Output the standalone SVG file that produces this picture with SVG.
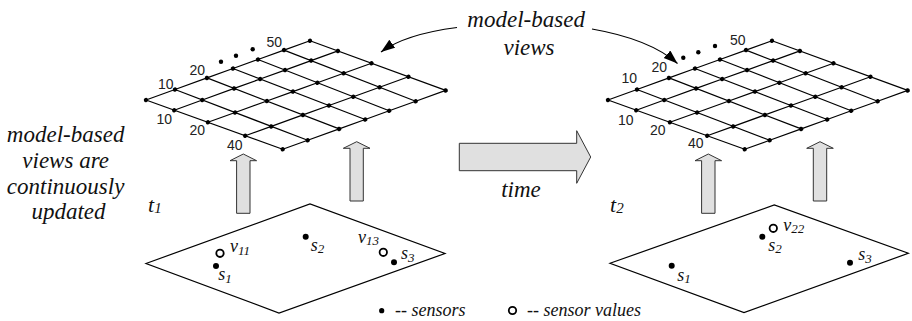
<svg xmlns="http://www.w3.org/2000/svg" xmlns:xlink="http://www.w3.org/1999/xlink" width="912" height="321" viewBox="0 0 912 321">
  <style>
    .row { fill: none; stroke: #000; stroke-width: 1.2; marker-start: url(#node); marker-mid: url(#node); marker-end: url(#node); }
    .col { fill: none; stroke: #000; stroke-width: 1.2; }
    .num { font-family: "Liberation Sans", Arial, sans-serif; font-size: 14px; fill: #222; }
    .it { font-family: "Liberation Serif", "Times New Roman", serif; font-style: italic; fill: #111; }
    .big { font-size: 23px; }
    .lab { font-size: 18px; }
    .sub { font-size: 13px; }
    .block { fill: #e0e0e0; stroke: #333; stroke-width: 1; }
    .plane { fill: none; stroke: #000; stroke-width: 1.2; }
    .dot { fill: #000; }
    .ring { fill: #fff; stroke: #000; stroke-width: 1.8; }
    .curve { fill: none; stroke: #000; stroke-width: 1.2; marker-end: url(#head); }
  </style>
  <defs>
    <marker id="node" markerUnits="userSpaceOnUse" markerWidth="6" markerHeight="6" refX="3" refY="3" orient="auto">
      <circle cx="3" cy="3" r="2.2" fill="#000"/>
    </marker>
    <marker id="head" markerUnits="userSpaceOnUse" markerWidth="15" markerHeight="11" refX="14" refY="5" orient="auto">
      <path d="M0,0 L14,5 L0,10 Z" fill="#000"/>
    </marker>
    <!-- 7 x 5 mesh of the model-based view, slightly foreshortened -->
    <g id="mesh">
      <path class="col" d="M146,100 L282.7,149.3"/>
      <path class="col" d="M175,89.5 L307.7,140.3"/>
      <path class="col" d="M207,77.9 L339.2,128.9"/>
      <path class="col" d="M233,68.5 L365.2,119.5"/>
      <path class="col" d="M258,59.5 L389.2,110.8"/>
      <path class="col" d="M284,50.1 L415.7,101.2"/>
      <path class="col" d="M310,40.7 L445.7,90.4"/>
      <polyline class="row" points="146,100 175,89.5 207,77.9 233,68.5 258,59.5 284,50.1 310,40.7"/>
      <polyline class="row" points="174.2,110.2 202.3,100 234.2,88.4 260.2,79 285,70.1 311.1,60.6 338,50.9"/>
      <polyline class="row" points="207.9,122.3 235.1,112.5 266.9,101 292.9,91.6 317.4,82.7 343.7,73.2 371.5,63.2"/>
      <polyline class="row" points="245.2,135.8 271.3,126.4 303,114.9 329,105.5 353.3,96.7 379.6,87.2 408.5,76.8"/>
      <polyline class="row" points="282.7,149.3 307.7,140.3 339.2,128.9 365.2,119.5 389.2,110.8 415.7,101.2 445.7,90.4"/>
    </g>
  </defs>

  <rect width="912" height="321" fill="#fff"/>

  <!-- view at t1 -->
  <g id="grid-t1">
    <use href="#mesh" xlink:href="#mesh"/>
    <text class="num" x="158" y="88.5">10</text>
    <text class="num" x="189.5" y="75">20</text>
    <text class="num" x="266.5" y="46.7">50</text>
    <text class="num" x="156.5" y="123.5">10</text>
    <text class="num" x="189.5" y="135">20</text>
    <text class="num" x="227" y="149.5">40</text>
    <circle class="dot" cx="221" cy="61.7" r="2.2"/>
    <circle class="dot" cx="236" cy="55.7" r="2.2"/>
    <circle class="dot" cx="252.7" cy="49.3" r="2.2"/>
  </g>

  <!-- view at t2 -->
  <g id="grid-t2">
    <use href="#mesh" xlink:href="#mesh" transform="translate(462,0)"/>
    <text class="num" x="621.5" y="83.3">10</text>
    <text class="num" x="651.5" y="71.7">20</text>
    <text class="num" x="730" y="45">50</text>
    <text class="num" x="618" y="125">10</text>
    <text class="num" x="650" y="135">20</text>
    <text class="num" x="688" y="148">40</text>
    <circle class="dot" cx="683.3" cy="57.7" r="2.2"/>
    <circle class="dot" cx="698.3" cy="52.3" r="2.2"/>
    <circle class="dot" cx="715" cy="46" r="2.2"/>
  </g>

  <!-- sensor field at t1 -->
  <g id="plane-t1">
    <path class="plane" d="M146,263.5 L310,204 L445,253.5 L279,313 Z"/>
    <circle class="ring" cx="220" cy="253.3" r="3.7"/>
    <text class="it lab" x="230" y="252.3">v<tspan class="sub" dy="2.7">11</tspan></text>
    <circle class="dot" cx="216" cy="266" r="3"/>
    <text class="it lab" x="218.3" y="280">s<tspan class="sub" dy="3">1</tspan></text>
    <circle class="dot" cx="305.7" cy="236.7" r="3"/>
    <text class="it lab" x="310.7" y="250.7">s<tspan class="sub" dy="2.6">2</tspan></text>
    <circle class="ring" cx="383.3" cy="252.3" r="3.7"/>
    <text class="it lab" x="358" y="242.7">v<tspan class="sub" dy="2.3">13</tspan></text>
    <circle class="dot" cx="394" cy="262.3" r="3"/>
    <text class="it lab" x="401" y="259.3">s<tspan class="sub" dy="2.4">3</tspan></text>
  </g>

  <!-- sensor field at t2 -->
  <g id="plane-t2">
    <path class="plane" d="M610,263.3 L774.3,205 L908.3,253.3 L744,312.5 Z"/>
    <circle class="dot" cx="762.3" cy="236.7" r="3"/>
    <circle class="ring" cx="773.3" cy="228.3" r="3.7"/>
    <text class="it lab" x="783.3" y="230.7">v<tspan class="sub" dy="2">22</tspan></text>
    <text class="it lab" x="768.3" y="250.7">s<tspan class="sub" dy="2.4">2</tspan></text>
    <circle class="dot" cx="671.7" cy="265.7" r="3"/>
    <text class="it lab" x="677.3" y="280.7">s<tspan class="sub" dy="2.4">1</tspan></text>
    <circle class="dot" cx="850" cy="262.7" r="3"/>
    <text class="it lab" x="858.3" y="260">s<tspan class="sub" dy="2.5">3</tspan></text>
  </g>

  <!-- time stamps -->
  <g id="stamp-t1">
    <text class="it" font-size="22" x="148" y="211.7">t<tspan font-size="15" dy="1.6">1</tspan></text>
  </g>
  <g id="stamp-t2">
    <text class="it" font-size="22" x="610" y="211.7">t<tspan font-size="15" dy="1.6">2</tspan></text>
  </g>

  <!-- captions -->
  <g id="caption-left">
    <text class="it big" text-anchor="middle">
      <tspan x="68.5" y="141.5">model-based</tspan>
      <tspan x="68.5" y="167.5">views are</tspan>
      <tspan x="68.5" y="193.5">continuously</tspan>
      <tspan x="68.5" y="219">updated</tspan>
    </text>
  </g>
  <g id="caption-top">
    <text class="it big" text-anchor="middle">
      <tspan x="529" y="27">model-based</tspan>
      <tspan x="529" y="55">views</tspan>
    </text>
  </g>

  <!-- time step -->
  <g id="time-step">
    <path class="block" d="M459.3,143.3 H576.7 V130.7 L590.7,157 L576.7,183.3 V170.7 H459.3 Z"/>
    <text class="it big" x="521" y="196.7" text-anchor="middle">time</text>
  </g>

  <!-- connectors -->
  <g id="connectors">
    <path class="curve" d="M457,27.5 C430,31 400,38 381,52"/>
    <path class="curve" d="M592,29 C632,36 660,48 677.5,63.5"/>
    <path class="block" d="M236.6,213.3 V160.7 H230 L243.3,154 L256.6,160.7 H250 V213.3 Z"/>
    <path class="block" d="M350,201 V148.3 H343.3 L356.7,141.7 L370,148.3 H363.3 V201 Z"/>
    <path class="block" d="M701.6,213.3 V160.7 H695 L708.3,154 L721.6,160.7 H715 V213.3 Z"/>
    <path class="block" d="M813.3,201 V148.3 H806.7 L820,141.7 L833.3,148.3 H826.7 V201 Z"/>
  </g>

  <!-- legend -->
  <g id="legend">
    <circle class="dot" cx="381.7" cy="310.7" r="2.6"/>
    <text class="it lab" x="395" y="315.5">-- sensors</text>
    <circle class="ring" cx="512.5" cy="310.5" r="3.7"/>
    <text class="it lab" x="527" y="315.5">-- sensor values</text>
  </g>
</svg>
